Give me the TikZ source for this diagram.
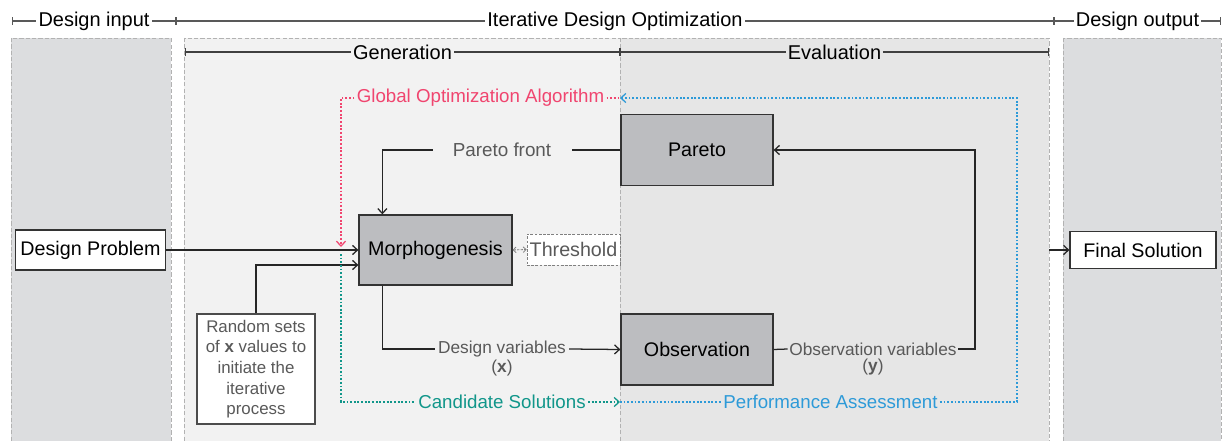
\documentclass[tikz,border=0pt]{standalone}
\usepackage{fontspec}
\setmainfont{Liberation Sans}
\usepackage{xcolor}
\usetikzlibrary{arrows.meta, positioning}

\definecolor{blockgrau}{HTML}{BCBDC0}
\definecolor{randgrau}{HTML}{DCDDDF}
\definecolor{gengrau}{HTML}{F2F2F2}
\definecolor{evalgrau}{HTML}{E6E6E6}
\definecolor{textgrau}{HTML}{595959}
\definecolor{algrot}{HTML}{F0456F}
\definecolor{kandgruen}{HTML}{11968A}
\definecolor{leistblau}{HTML}{2D9AD8}

\begin{document}
\begin{tikzpicture}[x=0.25mm, y=-0.25mm,
  >={Straight Barb[length=3.5pt,width=6.5pt]},
  panel/.style={draw=gray!60, line width=0.7pt, dash pattern=on 3pt off 1.5pt},
  span/.style={draw=black!65, line width=0.8pt, {Bar[width=5pt]}-{Bar[width=5pt]}},
  kopf/.style={font=\fontsize{14.2}{17}\selectfont, inner xsep=1.5pt, inner ysep=1pt},
  block/.style={draw=black!80, line width=0.9pt, fill=blockgrau, font=\fontsize{14}{17}\selectfont},
  weissbox/.style={draw=black!80, line width=0.9pt, fill=white, font=\fontsize{14}{17}\selectfont},
  fluss/.style={draw=black!85, line width=0.9pt},
  grautext/.style={text=textgrau, inner sep=1pt},
  punkt/.style={line width=0.9pt, dash pattern=on 1.3pt off 1.3pt},
  farbtext/.style={font=\fontsize{13.3}{16}\selectfont, inner xsep=1.5pt}]

% Hintergrund
\useasboundingbox (0,0) rectangle (1223,441);
\clip (0,0) rectangle (1223,441);
\fill[white] (0,0) rectangle (1223,441);
\filldraw[panel, fill=randgrau] (11,38) rectangle (171,460);
\filldraw[panel, fill=gengrau] (184,38) rectangle (620,460);
\filldraw[panel, fill=evalgrau] (620,38) rectangle (1049,460);
\filldraw[panel, fill=randgrau] (1063,38) rectangle (1221,460);

% Kopfzeilen
\draw[span] (12,21) -- (176,21) node[midway, kopf, fill=white] {Design input};
\draw[span] (176,21) -- (1054,21) node[midway, kopf, fill=white] {Iterative Design Optimization};
\draw[span] (1054,21) -- (1221,21) node[midway, kopf, fill=white] {Design output};
\draw[span, draw=black!75] (185,52) -- (620,52) node[midway, kopf, fill=gengrau] {Generation};
\draw[span, draw=black!75] (620,52) -- (1049,52) node[midway, kopf, fill=evalgrau] {Evaluation};

% Bloecke
\node[weissbox, minimum width=36.25mm, minimum height=10mm] (problem) at (90.5,250) {Design Problem};
\node[block, minimum width=38.25mm, minimum height=17.5mm] (morph) at (435.5,250) {Morphogenesis};
\node[block, minimum width=38mm, minimum height=17.75mm] (pareto) at (697,150) {Pareto};
\node[block, minimum width=38mm, minimum height=17.75mm] (observ) at (697,349.5) {Observation};
\node[weissbox, minimum width=36.5mm, minimum height=9.25mm] (final) at (1143,250) {Final Solution};
\node[draw=gray, line width=0.6pt, dash pattern=on 2pt off 1pt, fill=white, text=textgrau,
  font=\fontsize{14}{17}\selectfont, inner xsep=1pt, minimum width=23.25mm, minimum height=7.75mm]
  (thresh) at (573.5,249.5) {Threshold};
\node[weissbox, draw=black!70, text=textgrau, font=\fontsize{12}{14.7}\selectfont, align=center,
  minimum width=29.5mm, minimum height=27.5mm] (randx) at (256,369)
  {Random sets\\of \textbf{x} values to\\initiate the\\iterative\\process};

% Beschriftungen
\node[grautext, font=\fontsize{13.4}{16}\selectfont, inner xsep=5mm] (pfront) at (502,150) {Pareto front};
\node[grautext, font=\fontsize{12.3}{14}\selectfont, inner xsep=2pt,
  label={[grautext, font=\fontsize{12.3}{14}\selectfont, label distance=0pt]below:(\textbf{x})}]
  (dvar) at (502,349) {Design variables};
\node[grautext, font=\fontsize{12.3}{14}\selectfont,
  label={[grautext, font=\fontsize{12.3}{14}\selectfont, label distance=0pt]below:(\textbf{y})}]
  (ovar) at (873,349) {Observation variables};
\node[farbtext, text=algrot] (gla) at (480.5,98) {Global Optimization Algorithm};
\node[farbtext, text=kandgruen] (cand) at (502,402) {Candidate Solutions};
\node[farbtext, text=leistblau] (perf) at (830.5,402) {Performance Assessment};

% Hilfspunkte
\coordinate (algende) at (341,247);
\coordinate (kandstart) at (341,254);
\coordinate (mitteoben) at (620,98);
\coordinate (mitteunten) at (620,402);
\coordinate (blauecke) at (1017,98);
\coordinate (ovecke) at (975,150);
\coordinate (ausgang) at (1049,250);

% Verbindungen
\draw[fluss,->] (problem) -- (morph);
\draw[fluss,->] (randx.north) |- ([yshift=-3.75mm]morph.west);
\draw[fluss] (pareto) -- (pfront);
\draw[fluss,->] (pfront.west) -| ([xshift=6mm]morph.north west);
\draw[fluss] ([xshift=6mm]morph.south west) |- (dvar.west);
\draw[fluss,->] (dvar.east) -- (observ.west);
\draw[fluss] (observ.east) -- (ovar.west);
\draw[fluss,->] (ovar.east) -| (ovecke) -- (pareto.east);
\draw[draw=gray, line width=0.6pt, dash pattern=on 1.5pt off 1pt,
  {Straight Barb[length=2pt,width=4pt]}-{Straight Barb[length=2pt,width=4pt]}] (morph.east) -- (thresh.west);
\draw[fluss,->] (ausgang) -- (final.west);

% Schleife
\draw[punkt, algrot, ->] (gla.west) -| (algende);
\draw[punkt, algrot] (gla.east) -- (mitteoben);
\draw[punkt, kandgruen] (kandstart) |- (cand.west);
\draw[punkt, kandgruen, ->] (cand.east) -- (mitteunten);
\draw[punkt, leistblau] (mitteunten) -- (perf.west);
\draw[punkt, leistblau, ->] (perf.east) -| (blauecke) -- (mitteoben);

\end{tikzpicture}
\end{document}
